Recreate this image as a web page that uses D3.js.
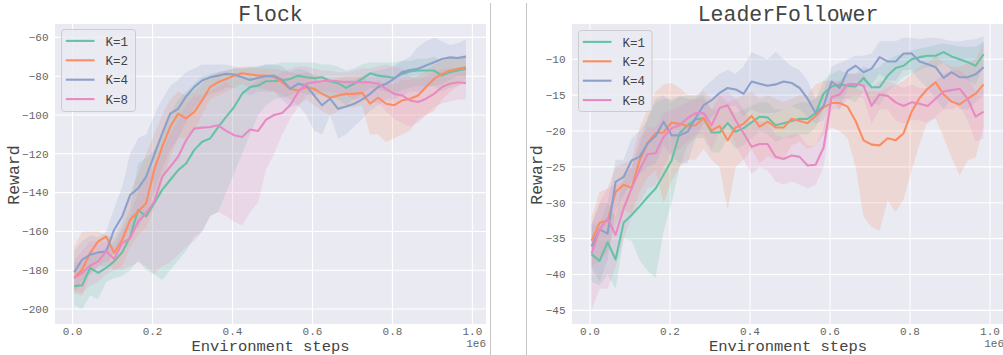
<!DOCTYPE html>
<html>
<head>
<meta charset="utf-8">
<script src="https://cdn.jsdelivr.net/npm/d3@7"></script>
<style>
  body { margin: 0; background: #fff; }
  svg { display: block; }
</style>
</head>
<body>
<div id="chart"></div>
<script>
// ---- data ----
const seriesNames = ["K=1", "K=2", "K=4", "K=8"];
const colors = ["#66c2a5", "#fc8d62", "#8da0cb", "#e78ac3"];

const xSteps = [0.004,0.024,0.044,0.064,0.084,0.104,0.124,0.144,0.164,0.184,
  0.204,0.224,0.244,0.264,0.284,0.304,0.324,0.344,0.364,0.384,
  0.404,0.424,0.444,0.464,0.484,0.504,0.524,0.544,0.564,0.584,
  0.604,0.624,0.644,0.664,0.684,0.704,0.724,0.744,0.764,0.784,
  0.804,0.824,0.844,0.864,0.884,0.904,0.924,0.944,0.964,0.984];

const xTicks = [0, 0.2, 0.4, 0.6, 0.8, 1.0];
const flockTicks = [-200, -180, -160, -140, -120, -100, -80, -60];
const leaderTicks = [-45, -40, -35, -30, -25, -20, -15, -10];

// Flock
const flockK1 = [-188.2,-187.7,-178.8,-181.4,-178.8,-175.4,-170.8,-162.6,-148.9,-152.3,
  -145.5,-138.6,-133.5,-128.4,-125,-118.1,-113.8,-112.1,-106.2,-101,
  -95.9,-89,-85.6,-84.8,-82.6,-82.5,-82.2,-81.4,-79.7,-80.5,
  -81,-80.5,-82.6,-83.6,-86,-83.9,-81.4,-78.5,-79.7,-80.2,
  -80.9,-78.8,-77.6,-77.1,-77.1,-77.1,-79.7,-77.9,-77.1,-76.2];
const flockK1Hi = [-176,-176,-170,-172,-168,-165,-158,-148,-125,-122,
  -118,-110,-100,-92,-88,-84,-80,-79,-78,-77,
  -76,-76,-75,-75,-74,-74,-73,-73,-73,-73,
  -73,-74,-74,-75,-77,-76,-74,-73,-73,-73,
  -73,-72,-72,-71,-71,-70,-72,-71,-70,-70];
const flockK1Lo = [-198,-200,-193,-195,-186,-184,-183,-180,-175,-180,
  -182,-185,-180,-175,-170,-163,-160,-152,-150,-140,
  -130,-120,-110,-100,-95,-92,-91,-90,-88,-89,
  -90,-89,-91,-92,-95,-92,-89,-86,-87,-88,
  -89,-87,-86,-85,-85,-85,-88,-86,-85,-83];

const flockK2 = [-183.9,-179.7,-171.1,-165.1,-162.6,-171.1,-164.3,-154,-149.7,-145.5,
  -128.4,-116.4,-106.2,-99.3,-101.8,-98.5,-92.5,-85.6,-83.1,-81.4,
  -79.7,-78.5,-79.1,-79.7,-79.7,-80.5,-83.1,-86.5,-87.4,-85.6,
  -86.5,-89.1,-91.1,-89.9,-89.1,-89.1,-88.5,-94.2,-91.1,-94.2,
  -95,-92.5,-91.6,-89.9,-85.6,-81.4,-78.8,-77.1,-76.2,-75.4];
const flockK2Hi = [-168,-160,-160,-160,-162,-163,-155,-140,-130,-120,
  -110,-100,-92,-88,-90,-88,-84,-80,-78,-77,
  -76,-75,-75,-76,-76,-76,-77,-78,-79,-78,
  -79,-80,-82,-81,-80,-80,-80,-84,-82,-84,
  -84,-82,-82,-80,-77,-74,-72,-71,-70,-69];
const flockK2Lo = [-192,-193,-182,-178,-175,-180,-178,-168,-162,-158,
  -148,-135,-122,-112,-112,-108,-100,-92,-90,-88,
  -86,-84,-86,-86,-87,-88,-90,-92,-95,-92,
  -95,-98,-100,-98,-96,-96,-95,-110,-110,-114,
  -112,-110,-108,-102,-100,-98,-92,-88,-85,-82];

const flockK4 = [-181,-174.5,-172,-170.8,-170.3,-159.1,-152.3,-141.2,-137.8,-131.8,
  -120.7,-109.6,-99.3,-96.8,-90.4,-85.6,-82.2,-80.5,-79.7,-78.8,
  -79.1,-80.5,-81.9,-80.9,-80,-79.7,-81.9,-86.5,-83.9,-84.8,
  -89.9,-95,-91.6,-96.8,-95.6,-94.2,-92.1,-89.1,-85.6,-83.9,
  -81.4,-77.9,-76.8,-76.2,-74.5,-72.8,-71.1,-70.3,-70.6,-69.9];
const flockK4Hi = [-170,-165,-162,-163,-160,-148,-137,-120,-112,-110,
  -100,-92,-85,-82,-78,-76,-74,-74,-74,-74,
  -75,-76,-76,-75,-74,-74,-75,-78,-76,-77,
  -80,-84,-82,-84,-82,-82,-80,-78,-77,-76,
  -75,-72,-70,-65,-62,-60,-62,-64,-63,-61];
const flockK4Lo = [-192,-185,-182,-178,-178,-170,-166,-160,-158,-150,
  -140,-128,-118,-112,-104,-96,-92,-89,-88,-86,
  -86,-88,-90,-88,-88,-88,-92,-96,-95,-100,
  -108,-110,-100,-112,-110,-106,-102,-98,-95,-92,
  -92,-90,-88,-88,-86,-85,-84,-82,-80,-80];

const flockK8 = [-183.9,-181.4,-177.6,-175.4,-170.3,-174.2,-166,-163.4,-154.9,-150.6,
  -144.6,-131.8,-126.7,-121.5,-113,-107,-106.5,-106.2,-105.3,-108.2,
  -110.4,-111.3,-107.5,-108.2,-102.4,-100,-99,-95,-88.2,-83.9,
  -83.1,-82.6,-82.2,-82.6,-83.1,-83.1,-83.1,-83.1,-83.9,-86.5,
  -89.1,-89.9,-92.5,-93.3,-91.6,-89.1,-85.6,-83.9,-83.1,-83.6];
const flockK8Hi = [-175,-170,-165,-165,-165,-168,-160,-152,-140,-132,
  -125,-118,-110,-102,-95,-90,-90,-88,-85,-83,
  -86,-88,-85,-82,-80,-80,-78,-76,-75,-75,
  -76,-77,-77,-78,-78,-77,-76,-76,-75,-74,
  -75,-76,-80,-82,-80,-78,-76,-76,-76,-76];
const flockK8Lo = [-190,-192,-188,-186,-182,-180,-180,-178,-176,-178,
  -182,-178,-176,-172,-168,-165,-160,-152,-150,-152,
  -155,-157,-150,-145,-128,-120,-110,-102,-96,-90,
  -88,-88,-88,-89,-90,-92,-92,-93,-94,-98,
  -102,-104,-106,-104,-100,-96,-94,-93,-92,-92];

// LeaderFollower
const leaderK1 = [-37.2,-38.1,-35.5,-37.9,-32.8,-31.7,-30.5,-29.2,-28,-26.1,
  -24.1,-20.3,-19.2,-18.4,-18.2,-20.2,-20.2,-18.9,-20.1,-19.6,
  -18.8,-18,-18.1,-19.2,-18.9,-18.6,-18.3,-18.3,-17.5,-14.8,
  -13.8,-13.5,-13.7,-13.8,-12.6,-13.9,-13.9,-12.3,-11.2,-10.9,
  -10,-9.7,-9.5,-9.5,-9,-9.6,-10,-10.4,-10.9,-9.3];
const leaderK1Hi = [-33,-33,-30,-32,-26,-25,-22,-18,-16,-15.5,
  -15.5,-15.3,-15,-15,-15,-17,-17,-16.5,-17.5,-17,
  -16.5,-16,-16,-17,-17,-16.5,-16,-16,-15.5,-13,
  -12,-11.5,-12,-12,-11,-11.5,-11,-10,-9.5,-9.2,
  -8.8,-8.5,-8.3,-8,-7.8,-8,-8.2,-8.3,-8.2,-7.5];
const leaderK1Lo = [-41,-41.5,-40,-42,-35,-35.3,-38,-39.5,-40.5,-34,
  -30,-25,-22,-21,-21,-23,-23,-21,-22.5,-22,
  -21,-20,-20.5,-21.5,-21,-21,-20.5,-20.5,-19.5,-17,
  -15.5,-15.5,-15.5,-16,-14.5,-16,-16.5,-14.5,-13.5,-12.5,
  -12,-11.5,-11,-11,-10.5,-11.5,-12.2,-13,-13.5,-11];

const leaderK2 = [-35.3,-32.8,-32.5,-28.5,-27.5,-27.9,-24.1,-21.7,-20.3,-20.2,
  -18.8,-19,-19.3,-19.2,-18.2,-19.9,-19.3,-21.3,-19.5,-19,
  -17.9,-19.4,-18.7,-19.5,-19.5,-18.3,-18.6,-18.9,-17.9,-16.7,
  -16.1,-16.1,-16.6,-18.6,-21.3,-21.9,-22,-21,-21.3,-20.3,
  -17.3,-15.4,-14.1,-13.2,-14.9,-15.9,-16.3,-15.5,-14.8,-13.5];
const leaderK2Hi = [-32,-28.5,-28,-25,-24.5,-24,-19.5,-17,-14.5,-13.5,
  -13.3,-14,-15,-15,-14.5,-15.5,-15,-16,-15.5,-15,
  -14.5,-15.5,-15,-15.5,-16,-15.5,-15,-15,-13.5,-13,
  -13,-13,-13.5,-14,-14.5,-14.5,-14.5,-14,-13.5,-13,
  -12,-11,-10.5,-9.5,-10.5,-11,-11,-10.5,-10,-7.5];
const leaderK2Lo = [-39,-38,-37,-33,-31,-31.5,-28.5,-26.5,-25.5,-30,
  -27,-25,-24,-24,-22.5,-24,-25,-31,-25,-24,
  -22.5,-24.5,-23.5,-24,-24,-22,-21.5,-22.5,-22,-20.5,
  -19.5,-20,-21,-25,-32,-33.4,-33.9,-29.7,-31.3,-29.5,
  -25.5,-21.8,-18.6,-18.3,-20.9,-23.7,-26.2,-24.1,-23.7,-19.5];

const leaderK4 = [-36.1,-33.7,-34.3,-27.1,-26.4,-24.1,-23.6,-21.7,-20.7,-18.7,
  -20.6,-20.6,-20.1,-18.2,-16.4,-15.7,-14.7,-14,-14.2,-14.8,
  -13.1,-13.4,-13.7,-13.5,-13.1,-13.3,-14,-15.5,-17.5,-16.5,
  -13.1,-14,-11.6,-10.9,-11.8,-11.3,-9.7,-10.3,-10.3,-9.2,
  -9.2,-10.3,-10.7,-11.1,-12.6,-11.8,-12.5,-12.5,-12.1,-11.1];
const leaderK4Hi = [-33,-30,-30,-24,-24,-21,-20,-18.5,-15.5,-15,
  -16,-15,-15.5,-15.5,-14,-13,-12,-11.5,-12,-11,
  -9,-9.5,-10,-9,-10,-11,-11.5,-13,-15.5,-14.5,
  -11,-10.5,-10,-9.5,-9.5,-9.2,-7.5,-7.5,-7.5,-7,
  -7,-7.2,-7,-7,-7.2,-7.5,-7.5,-7.3,-7.2,-6.8];
const leaderK4Lo = [-39,-41,-38,-31,-29,-27,-26,-25,-24.5,-22,
  -23.5,-24.5,-24.5,-21,-19,-18,-17,-16.5,-16.5,-18,
  -17,-17.5,-17.5,-17.5,-17,-16.5,-17,-18,-19,-18.5,
  -15.5,-17,-14,-13,-14,-13.5,-12,-13,-13,-11.5,
  -11.5,-13,-14,-15.5,-17,-15.5,-17,-17,-16,-15];

const leaderK8 = [-37.1,-33.7,-32.2,-34.5,-30.8,-28,-25.4,-23.2,-23.1,-20.8,
  -19.6,-19.2,-18.2,-17.5,-17.5,-19.2,-16.8,-16.4,-18.5,-20.3,
  -22.2,-21.8,-21.8,-23.6,-23.9,-23.4,-23.6,-24.8,-24.7,-22.3,
  -15.3,-14.9,-13.5,-13.4,-13.7,-16.5,-14.9,-15.1,-16,-16.5,
  -16,-16.2,-16.5,-15.5,-14.5,-14.3,-14.1,-15.5,-18,-17.3];
const leaderK8Hi = [-33,-30,-28,-27.5,-27,-25,-21,-19.5,-19.5,-17.5,
  -17,-16.5,-16,-15.5,-15.5,-17,-15,-14.5,-15.5,-17,
  -19,-18.5,-19,-20.5,-21,-20.5,-20.5,-22,-22,-19.5,
  -13.5,-13,-12,-12,-12,-14,-13,-13,-13.5,-14,
  -13.5,-14,-14,-13,-12,-11.5,-11.5,-12.5,-14.5,-14];
const leaderK8Lo = [-45,-42,-42,-39,-35,-32,-30,-28,-27.5,-25,
  -23,-22.5,-21.5,-20.5,-20.5,-22.5,-20,-19,-22,-24,
  -26,-25,-25.5,-27,-27.5,-27,-27.5,-28,-27.5,-25,
  -17,-17,-15.5,-15,-15.5,-19,-17,-17,-18.5,-19,
  -18.5,-18.5,-19,-18,-17,-17,-16.5,-18.5,-21.5,-21];

// ---- layout ----
const W = 1003, H = 355;
const FONT = "'Liberation Mono', 'Courier New', monospace";
const TEXT = "#444", TICK = "#666";

const svg = d3.select("#chart").append("svg")
  .attr("width", W).attr("height", H);

// separators between the two sub-figures
svg.append("line").attr("x1", 490.5).attr("x2", 490.5).attr("y1", 3).attr("y2", H)
  .attr("stroke", "#c4c4c4").attr("stroke-width", 1);
svg.append("line").attr("x1", 526.5).attr("x2", 526.5).attr("y1", 3).attr("y2", H)
  .attr("stroke", "#c4c4c4").attr("stroke-width", 1);

function panel(cfg) {
  const x = d3.scaleLinear().domain(cfg.xDomain).range([cfg.left, cfg.right]);
  const y = d3.scaleLinear().domain(cfg.yDomain).range([cfg.bottom, cfg.top]);

  const clipId = "clip-" + cfg.title;
  svg.append("clipPath").attr("id", clipId)
    .append("rect")
    .attr("x", cfg.left).attr("y", cfg.top)
    .attr("width", cfg.right - cfg.left).attr("height", cfg.bottom - cfg.top);

  const g = svg.append("g");

  // background
  g.append("rect")
    .attr("x", cfg.left).attr("y", cfg.top)
    .attr("width", cfg.right - cfg.left).attr("height", cfg.bottom - cfg.top)
    .attr("fill", "#eaeaf2");

  // grid
  const grid = g.append("g").attr("clip-path", `url(#${clipId})`)
    .attr("stroke", "#fff").attr("stroke-width", 1.1);
  grid.selectAll(".vx").data(xTicks).join("line")
    .attr("x1", d => x(d)).attr("x2", d => x(d))
    .attr("y1", cfg.top).attr("y2", cfg.bottom);
  grid.selectAll(".hy").data(cfg.yTicks).join("line")
    .attr("x1", cfg.left).attr("x2", cfg.right)
    .attr("y1", d => y(d)).attr("y2", d => y(d));

  const plot = g.append("g").attr("clip-path", `url(#${clipId})`);

  // bands
  const area = d3.area()
    .x((d, i) => x(xSteps[i]))
    .y0(d => y(d.lo))
    .y1(d => y(d.hi));
  cfg.series.forEach((s, k) => {
    const rows = s.mean.map((m, i) => ({lo: s.lo[i], hi: s.hi[i]}));
    plot.append("path")
      .attr("d", area(rows))
      .attr("fill", colors[k])
      .attr("fill-opacity", 0.2);
  });

  // mean lines
  const line = d3.line().x((d, i) => x(xSteps[i])).y(d => y(d));
  cfg.series.forEach((s, k) => {
    plot.append("path")
      .attr("d", line(s.mean))
      .attr("fill", "none")
      .attr("stroke", colors[k])
      .attr("stroke-width", 2.1)
      .attr("stroke-linejoin", "round");
  });

  // tick labels
  g.selectAll(".xt").data(xTicks).join("text")
    .attr("x", d => x(d)).attr("y", 334.5)
    .attr("text-anchor", "middle")
    .attr("font-family", FONT).attr("font-size", 11).attr("fill", TICK)
    .text(d => d3.format(".1f")(d));
  g.selectAll(".yt").data(cfg.yTicks).join("text")
    .attr("x", cfg.left - 6.5).attr("y", d => y(d) + 3.8)
    .attr("text-anchor", "end")
    .attr("font-family", FONT).attr("font-size", 11).attr("fill", TICK)
    .text(d => d3.format("d")(d).replace("-", "\u2212"));

  // offset text
  g.append("text")
    .attr("x", cfg.right).attr("y", 347)
    .attr("text-anchor", "end")
    .attr("font-family", FONT).attr("font-size", 11).attr("fill", TICK)
    .text("1e6");

  // title + axis labels
  g.append("text")
    .attr("x", (cfg.left + cfg.right) / 2).attr("y", 21)
    .attr("text-anchor", "middle")
    .attr("font-family", FONT).attr("font-size", 21.5).attr("fill", TEXT)
    .text(cfg.title);
  g.append("text")
    .attr("x", (cfg.left + cfg.right) / 2).attr("y", 350.5)
    .attr("text-anchor", "middle")
    .attr("font-family", FONT).attr("font-size", 15.5).attr("fill", TEXT)
    .text("Environment steps");
  g.append("text")
    .attr("transform", `translate(${cfg.yLabelX},175) rotate(-90)`)
    .attr("text-anchor", "middle")
    .attr("dy", "0.35em")
    .attr("font-family", FONT).attr("font-size", 16.5).attr("fill", TEXT)
    .text("Reward");

  // legend
  const lg = g.append("g");
  lg.append("rect")
    .attr("x", cfg.legend.x).attr("y", cfg.legend.y)
    .attr("width", cfg.legend.w).attr("height", cfg.legend.h)
    .attr("rx", 3)
    .attr("fill", "#eaeaf2").attr("fill-opacity", 0.8)
    .attr("stroke", "#cccccc").attr("stroke-width", 1);
  seriesNames.forEach((name, k) => {
    const ly = cfg.legend.y + 11.4 + k * 19.4;
    lg.append("line")
      .attr("x1", cfg.legend.x + 4.3).attr("x2", cfg.legend.x + 33)
      .attr("y1", ly).attr("y2", ly)
      .attr("stroke", colors[k]).attr("stroke-width", 2.1);
    lg.append("text")
      .attr("x", cfg.legend.x + 44).attr("y", ly + 4.6)
      .attr("font-family", FONT).attr("font-size", 12.5).attr("fill", TEXT)
      .text(name);
  });
}

panel({
  title: "Flock",
  left: 55, right: 486, top: 24, bottom: 324,
  xDomain: [-0.044, 1.034],
  yDomain: [-207.7, -53.1],
  yTicks: flockTicks,
  yLabelX: 13,
  legend: {x: 61.5, y: 29.5, w: 74, h: 82},
  series: [
    {mean: flockK1, lo: flockK1Lo, hi: flockK1Hi},
    {mean: flockK2, lo: flockK2Lo, hi: flockK2Hi},
    {mean: flockK4, lo: flockK4Lo, hi: flockK4Hi},
    {mean: flockK8, lo: flockK8Lo, hi: flockK8Hi}
  ]
});

panel({
  title: "LeaderFollower",
  left: 572, right: 1004, top: 24, bottom: 324,
  xDomain: [-0.045, 1.035],
  yDomain: [-46.9, -5.08],
  yTicks: leaderTicks,
  yLabelX: 536,
  legend: {x: 578.5, y: 30.5, w: 73.5, h: 81},
  series: [
    {mean: leaderK1, lo: leaderK1Lo, hi: leaderK1Hi},
    {mean: leaderK2, lo: leaderK2Lo, hi: leaderK2Hi},
    {mean: leaderK4, lo: leaderK4Lo, hi: leaderK4Hi},
    {mean: leaderK8, lo: leaderK8Lo, hi: leaderK8Hi}
  ]
});
</script>
</body>
</html>
